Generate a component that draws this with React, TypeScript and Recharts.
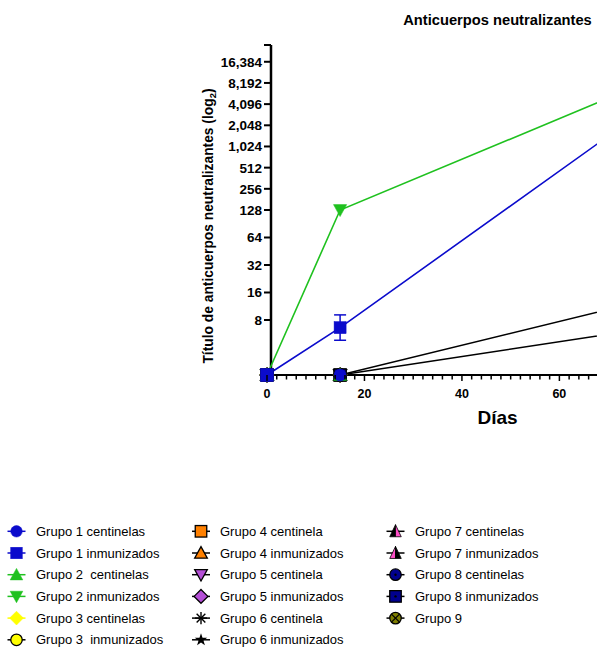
import { LineChart, Line, XAxis, YAxis, ErrorBar, ReferenceLine } from "recharts";

const FONT = '"Liberation Sans", Arial, Helvetica, sans-serif';

const BLUE = "#0b0bcc";
const GREEN = "#1fc11f";
const YELLOW = "#ffff00";
const ORANGE = "#ff8000";
const PURPLE = "#b44fd6";
const PINK = "#ff4fc8";
const NAVY = "#00008e";
const OLIVE = "#7f7f00";

// días de muestreo
const days = [0, 15, 90];

// títulos (2 = por debajo del límite, se dibuja sobre el eje)
const g1c = [2, 2, 2];
const g1i = [2, 6.6, 14000];
const g1iLow = [null, 4.8, null];
const g1iHigh = [null, 9.1, null];
const g2c = [2, 2, 2];
const g2i = [2, 128, 18700];
const g3c = [2, 2, 2];
const g3i = [2, 2, 2];
const g4c = [2, 2, 2];
const g4i = [2, 2, 2];
const g5c = [2, 2, 2];
const g5i = [2, 2, 2];
const g6c = [2, 2, 8.1];
const g6i = [2, 2, 19];
const g7c = [2, 2, 2];
const g7i = [2, 2, 2];
const g8c = [2, 2, 2];
const g8i = [2, 2, 2];
const g9 = [2, 2, 2];

const yTickValues = [8, 16, 32, 64, 128, 256, 512, 1024, 2048, 4096, 8192, 16384];
const xTickValues = Array.from({ length: 48 }, (_, i) => i * 2);
const xTickLabels = [0, 20, 40, 60];

// eje log2 segmentado: por encima de 128 cada duplicación ocupa menos
function toPos(v: number) {
  const l = Math.log2(v);
  return l <= 7 ? l : 7 + (l - 7) * 0.77;
}

type Group = {
  key: string;
  name: string;
  values: number[];
  fill: string;
  line: string;
  shape: string;
  border?: string;
};

const groups: Group[] = [
  { key: "g1c", name: "Grupo 1 centinelas", values: g1c, fill: BLUE, line: BLUE, shape: "circle" },
  { key: "g1i", name: "Grupo 1 inmunizados", values: g1i, fill: BLUE, line: BLUE, shape: "square" },
  { key: "g2c", name: "Grupo 2  centinelas", values: g2c, fill: GREEN, line: GREEN, shape: "triUp" },
  { key: "g2i", name: "Grupo 2 inmunizados", values: g2i, fill: GREEN, line: GREEN, shape: "triDown" },
  { key: "g3c", name: "Grupo 3 centinelas", values: g3c, fill: YELLOW, line: YELLOW, shape: "diamond" },
  { key: "g3i", name: "Grupo 3  inmunizados", values: g3i, fill: YELLOW, line: "#000", shape: "circle", border: "#000" },
  { key: "g4c", name: "Grupo 4 centinela", values: g4c, fill: ORANGE, line: "#000", shape: "square", border: "#000" },
  { key: "g4i", name: "Grupo 4 inmunizados", values: g4i, fill: ORANGE, line: "#000", shape: "triUp", border: "#000" },
  { key: "g5c", name: "Grupo 5 centinela", values: g5c, fill: PURPLE, line: "#000", shape: "triDown", border: "#000" },
  { key: "g5i", name: "Grupo 5 inmunizados", values: g5i, fill: PURPLE, line: "#000", shape: "diamond", border: "#000" },
  { key: "g6c", name: "Grupo 6 centinela", values: g6c, fill: "#000", line: "#000", shape: "asterisk" },
  { key: "g6i", name: "Grupo 6 inmunizados", values: g6i, fill: "#000", line: "#000", shape: "star" },
  { key: "g7c", name: "Grupo 7 centinelas", values: g7c, fill: PINK, line: "#000", shape: "halfL" },
  { key: "g7i", name: "Grupo 7 inmunizados", values: g7i, fill: PINK, line: "#000", shape: "halfR" },
  { key: "g8c", name: "Grupo 8 centinelas", values: g8c, fill: NAVY, line: "#000", shape: "circleDot", border: "#000" },
  { key: "g8i", name: "Grupo 8 inmunizados", values: g8i, fill: NAVY, line: "#000", shape: "squareDot", border: "#000" },
  { key: "g9", name: "Grupo 9", values: g9, fill: OLIVE, line: "#000", shape: "circleX", border: "#000" },
];

// orden de dibujo (abajo -> arriba)
const drawOrder = ["g9", "g7i", "g7c", "g6c", "g6i", "g5i", "g5c", "g4i", "g4c", "g3i", "g3c", "g8c", "g2i", "g8i", "g2c", "g1c", "g1i"];

const rows = days.map((d, i) => {
  const row: any = { day: d };
  groups.forEach((g) => (row[g.key] = toPos(g.values[i])));
  const lo = g1iLow[i];
  const hi = g1iHigh[i];
  if (lo != null && hi != null) {
    row.g1iErr = [toPos(g1i[i]) - toPos(lo), toPos(hi) - toPos(g1i[i])];
  }
  return row;
});

function Marker({ g, cx, cy, s }: { g: Group; cx: number; cy: number; s: number }) {
  const h = s / 2;
  const stroke = g.border ?? g.fill;
  const sw = g.border ? 1.3 : 0.5;
  switch (g.shape) {
    case "circle":
      return <circle cx={cx} cy={cy} r={h} fill={g.fill} stroke={stroke} strokeWidth={sw} />;
    case "square":
      return <rect x={cx - h} y={cy - h} width={s} height={s} fill={g.fill} stroke={stroke} strokeWidth={sw} />;
    case "triUp":
      return (
        <polygon
          points={`${cx},${cy - h * 1.1} ${cx - h * 1.1},${cy + h * 0.9} ${cx + h * 1.1},${cy + h * 0.9}`}
          fill={g.fill}
          stroke={stroke}
          strokeWidth={sw}
        />
      );
    case "triDown":
      return (
        <polygon
          points={`${cx},${cy + h * 1.1} ${cx - h * 1.1},${cy - h * 0.9} ${cx + h * 1.1},${cy - h * 0.9}`}
          fill={g.fill}
          stroke={stroke}
          strokeWidth={sw}
        />
      );
    case "diamond":
      return (
        <polygon
          points={`${cx},${cy - h * 1.2} ${cx + h * 1.2},${cy} ${cx},${cy + h * 1.2} ${cx - h * 1.2},${cy}`}
          fill={g.fill}
          stroke={stroke}
          strokeWidth={sw}
        />
      );
    case "asterisk": {
      const r = h * 1.05;
      const d = r * 0.72;
      return (
        <g stroke="#000" strokeWidth={1.4}>
          <line x1={cx - r} y1={cy} x2={cx + r} y2={cy} />
          <line x1={cx} y1={cy - r} x2={cx} y2={cy + r} />
          <line x1={cx - d} y1={cy - d} x2={cx + d} y2={cy + d} />
          <line x1={cx - d} y1={cy + d} x2={cx + d} y2={cy - d} />
        </g>
      );
    }
    case "star": {
      const pts: string[] = [];
      for (let k = 0; k < 10; k++) {
        const r = k % 2 === 0 ? h * 1.15 : h * 0.45;
        const a = -Math.PI / 2 + (k * Math.PI) / 5;
        pts.push(`${cx + r * Math.cos(a)},${cy + r * Math.sin(a)}`);
      }
      return <polygon points={pts.join(" ")} fill="#000" />;
    }
    case "halfL":
    case "halfR": {
      const top = cy - h * 1.15;
      const bot = cy + h * 0.95;
      const w = h * 1.0;
      const left = g.shape === "halfL" ? "#000" : PINK;
      const right = g.shape === "halfL" ? PINK : "#000";
      return (
        <g>
          <polygon points={`${cx},${top} ${cx - w},${bot} ${cx},${bot}`} fill={left} stroke="#000" strokeWidth={0.8} />
          <polygon points={`${cx},${top} ${cx + w},${bot} ${cx},${bot}`} fill={right} stroke="#000" strokeWidth={0.8} />
        </g>
      );
    }
    case "circleDot":
      return (
        <g>
          <circle cx={cx} cy={cy} r={h} fill={g.fill} stroke="#000" strokeWidth={1.3} />
          <circle cx={cx} cy={cy} r={1.2} fill="#000" />
        </g>
      );
    case "squareDot":
      return (
        <g>
          <rect x={cx - h} y={cy - h} width={s} height={s} fill={g.fill} stroke="#000" strokeWidth={1.3} />
          <circle cx={cx} cy={cy} r={1.2} fill="#000" />
        </g>
      );
    case "circleX": {
      const d = h * 0.7;
      return (
        <g>
          <circle cx={cx} cy={cy} r={h} fill={g.fill} stroke="#000" strokeWidth={1.3} />
          <line x1={cx - d} y1={cy - d} x2={cx + d} y2={cy + d} stroke="#000" strokeWidth={1.2} />
          <line x1={cx - d} y1={cy + d} x2={cx + d} y2={cy - d} stroke="#000" strokeWidth={1.2} />
        </g>
      );
    }
    default:
      return null;
  }
}

function XTick(props: any) {
  const { x, y, payload } = props;
  const v = payload.value;
  const major = v % 20 === 0;
  return (
    <g>
      <line x1={x} x2={x} y1={y} y2={y + (major ? 6 : 4.5)} stroke="#000" strokeWidth={1.5} />
      {xTickLabels.includes(v) && (
        <text x={x} y={y + 22.5} textAnchor="middle" fontFamily={FONT} fontWeight="bold" fontSize={12.5} fill="#000">
          {v}
        </text>
      )}
    </g>
  );
}

function YTick(props: any) {
  const { x, y, index } = props;
  const v = yTickValues[index];
  return (
    <g>
      <line x1={x - 3} x2={x + 4} y1={y} y2={y} stroke="#000" strokeWidth={2} />
      {v != null && (
        <text x={x - 5} y={y} dy="0.36em" textAnchor="end" fontFamily={FONT} fontWeight="bold" fontSize={13.5} fill="#000">
          {v.toLocaleString("en-US")}
        </text>
      )}
    </g>
  );
}

function YLabel() {
  const x = 213;
  const y = 226;
  return (
    <text
      x={x}
      y={y}
      transform={`rotate(-90 ${x} ${y})`}
      textAnchor="middle"
      fontFamily={FONT}
      fontWeight="bold"
      fontSize={13.8}
      fill="#000"
    >
      Título de anticuerpos neutralizantes (log
      <tspan dy={3} fontSize={9.5}>2</tspan>
      <tspan dy={-3}>)</tspan>
    </text>
  );
}

function XLabel(props: any) {
  const vb = props.viewBox;
  return (
    <text x={vb.x + vb.width / 2} y={424} textAnchor="middle" fontFamily={FONT} fontWeight="bold" fontSize={19} fill="#000">
      Días
    </text>
  );
}

function ChartLegend() {
  const colIcon = [16.5, 201, 395.5];
  const colText = [36, 220, 415];
  return (
    <svg width={597} height={132} style={{ position: "absolute", left: 0, top: 515 }}>
      {groups.map((g, i) => {
        const col = Math.floor(i / 6);
        const row = i % 6;
        const cy = 16.3 + row * 21.7;
        const cx = colIcon[col];
        return (
          <g key={g.key}>
            <line x1={cx - 9} x2={cx + 9} y1={cy} y2={cy} stroke={g.line} strokeWidth={1.5} />
            <Marker g={g} cx={cx} cy={cy} s={11.5} />
            <text
              x={colText[col]}
              y={cy + 4.6}
              fontFamily={FONT}
              fontSize={13}
              fill="#000"
              style={{ whiteSpace: "pre" }}
            >
              {g.name}
            </text>
          </g>
        );
      })}
    </svg>
  );
}

export default function App() {
  const ordered = drawOrder.map((k) => groups.find((g) => g.key === k)!);
  return (
    <div
      style={{
        position: "absolute",
        left: 0,
        top: 0,
        width: 597,
        height: 647,
        overflow: "hidden",
        background: "#fff",
        fontFamily: FONT,
      }}
    >
      <div
        style={{
          position: "absolute",
          left: 297.5,
          width: 400,
          top: 11,
          lineHeight: "18px",
          textAlign: "center",
          fontWeight: "bold",
          fontSize: 14.7,
          color: "#000",
        }}
      >
        Anticuerpos neutralizantes
      </div>
      <div style={{ position: "absolute", left: 0, top: 0 }}>
        <LineChart width={760} height={430} data={rows} margin={{ top: 45, right: 32, bottom: 5, left: 207 }}>
          <XAxis
            dataKey="day"
            type="number"
            domain={[0, 94.6]}
            ticks={xTickValues}
            interval={0}
            tickLine={false}
            tickSize={0}
            tickMargin={0}
            height={50}
            axisLine={{ stroke: "#000", strokeWidth: 2 }}
            tick={<XTick />}
            label={<XLabel />}
          />
          <YAxis
            type="number"
            domain={[1, 13]}
            ticks={[...yTickValues.map(toPos), 13]}
            interval={0}
            axisLine={false}
            tickLine={false}
            tickSize={0}
            tickMargin={0}
            width={60}
            tick={<YTick />}
            label={<YLabel />}
          />
          <ReferenceLine x={0.82} stroke="#000" strokeWidth={2.5} />
          {ordered.map((g) => (
            <Line
              key={g.key}
              type="linear"
              dataKey={g.key}
              stroke={g.line}
              strokeWidth={1.6}
              isAnimationActive={false}
              activeDot={false}
              dot={(p: any) =>
                p.cx == null || p.cy == null ? (
                  <g key={`${g.key}-dot-${p.index}`} />
                ) : (
                  <g key={`${g.key}-dot-${p.index}`}>
                    <Marker g={g} cx={p.cx} cy={p.cy} s={g.key === "g1i" && p.index === 0 ? 13 : 12} />
                  </g>
                )
              }
            >
              {g.key === "g1i" && (
                <ErrorBar dataKey="g1iErr" width={6} stroke={BLUE} strokeWidth={1.5} direction="y" />
              )}
            </Line>
          ))}
        </LineChart>
      </div>
      <ChartLegend />
    </div>
  );
}
